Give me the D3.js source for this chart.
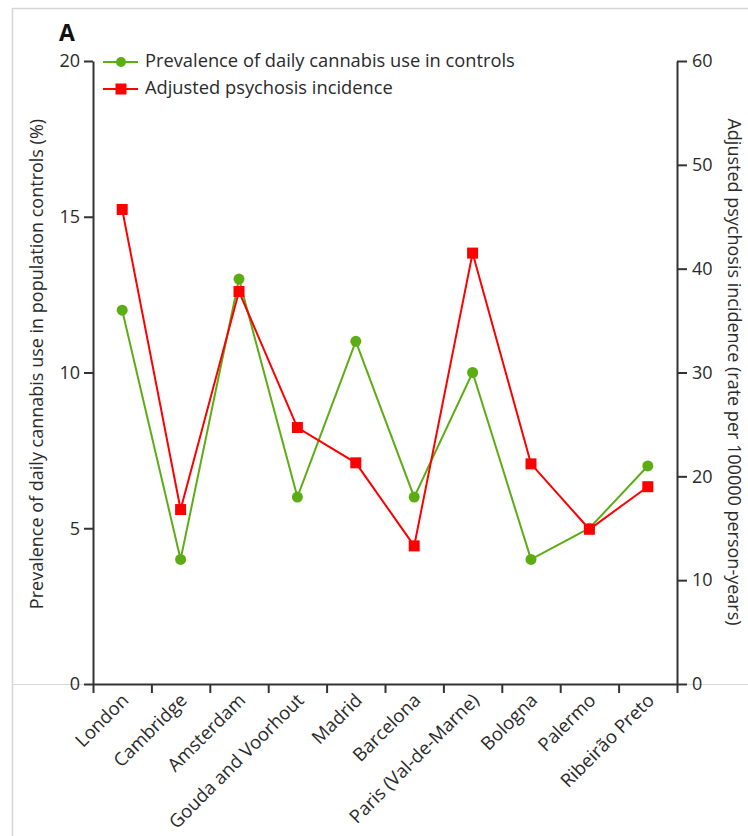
<!DOCTYPE html>
<html><head><meta charset="utf-8">
<script src="https://cdn.jsdelivr.net/npm/d3@7"></script>
<style>
html,body{margin:0;padding:0;background:#fff;}
text{font-family:"Open Sans", Lato, sans-serif;}
</style></head>
<body>
<svg id="chart" width="748" height="836"></svg>
<script>
const categories = ["London","Cambridge","Amsterdam","Gouda and Voorhout","Madrid","Barcelona","Paris (Val-de-Marne)","Bologna","Palermo","Ribeirão Preto"];
const prevalence = [12,4,13,6,11,6,10,4,5,7];
const incidence = [45.7,16.8,37.8,24.7,21.3,13.3,41.5,21.2,14.9,19.0];
const leftTicks = [0,5,10,15,20];
const rightTicks = [0,10,20,30,40,50,60];
const seriesNames = ["Prevalence of daily cannabis use in controls","Adjusted psychosis incidence"];
const leftTitle = "Prevalence of daily cannabis use in population controls (%)";
const rightTitle = "Adjusted psychosis incidence (rate per 100000 person-years)";

const W=748,H=836;
const L=93,R=677,T=61,B=684;
const svg=d3.select("#chart");
const green="#5cad14", red="#ff0000", axisCol="#333", txt="#2a2a2a";
const FONT='"Open Sans", sans-serif';

// frame
svg.append("line").attr("x1",12.5).attr("x2",12.5).attr("y1",8).attr("y2",H).attr("stroke","#d6d6d6").attr("stroke-width",1.5);
svg.append("line").attr("x1",12).attr("x2",W).attr("y1",8.5).attr("y2",8.5).attr("stroke","#d6d6d6").attr("stroke-width",1.5);
svg.append("line").attr("x1",12).attr("x2",W).attr("y1",B+0.5).attr("y2",B+0.5).attr("stroke","#d9d9d9").attr("stroke-width",1);

const x=d3.scaleBand().domain(categories).range([L,R]).padding(0);
const xb=d3.scaleLinear().domain([0,categories.length]).range([L,R]);
const yL=d3.scaleLinear().domain([0,20]).range([B,T]);
const yR=d3.scaleLinear().domain([0,60]).range([B,T]);
const cx=c=>x(c)+x.bandwidth()/2;

function styleAxis(g){
  g.selectAll(".domain").attr("stroke",axisCol).attr("stroke-width",2);
  g.selectAll(".tick line").attr("stroke",axisCol).attr("stroke-width",2);
  g.selectAll(".tick text").attr("fill",txt).style("font-size","18px").style("font-family",FONT);
}

const gl=svg.append("g").attr("transform",`translate(${L},0)`)
  .call(d3.axisLeft(yL).tickValues(leftTicks).tickSize(9).tickSizeOuter(0).tickPadding(4));
styleAxis(gl);
const gr=svg.append("g").attr("transform",`translate(${R},0)`)
  .call(d3.axisRight(yR).tickValues(rightTicks).tickSize(10).tickSizeOuter(0).tickPadding(5));
styleAxis(gr);
const gx=svg.append("g").attr("transform",`translate(0,${B})`)
  .call(d3.axisBottom(xb).ticks(categories.length).tickFormat("").tickSize(9).tickSizeOuter(0));
styleAxis(gx);

// x labels
svg.append("g").selectAll("text").data(categories).join("text")
  .attr("transform",c=>`translate(${cx(c)+4},${B+14}) rotate(-45)`)
  .attr("text-anchor","end").attr("dominant-baseline","middle")
  .attr("fill",txt).style("font-size","18.5px").text(c=>c);

// titles
svg.append("text").attr("transform",`translate(38,364) rotate(-90)`)
  .attr("text-anchor","middle").attr("dominant-baseline","middle")
  .attr("fill",txt).style("font-size","18px").text(leftTitle);
svg.append("text").attr("transform",`translate(733,372) rotate(90)`)
  .attr("text-anchor","middle").attr("dominant-baseline","middle")
  .attr("fill",txt).style("font-size","18px").text(rightTitle);

svg.append("text").attr("x",59).attr("y",41).attr("font-weight","bold").attr("fill","#111").style("font-size","23px").text("A");

// lines
const lineG=d3.line().x((d,i)=>cx(categories[i])).y(d=>yL(d));
const lineR=d3.line().x((d,i)=>cx(categories[i])).y(d=>yR(d));
svg.append("path").attr("d",lineG(prevalence)).attr("fill","none").attr("stroke",green).attr("stroke-width",2);
svg.append("path").attr("d",lineR(incidence)).attr("fill","none").attr("stroke",red).attr("stroke-width",2);
svg.append("g").selectAll("circle").data(prevalence).join("circle")
  .attr("cx",(d,i)=>cx(categories[i])).attr("cy",d=>yL(d)).attr("r",5.5).attr("fill",green);
const s=11;
svg.append("g").selectAll("rect").data(incidence).join("rect")
  .attr("x",(d,i)=>cx(categories[i])-s/2).attr("y",d=>yR(d)-s/2).attr("width",s).attr("height",s).attr("fill",red);

// legend
const leg=svg.append("g");
const legY=[62,89];
[green,red].forEach((col,i)=>{
  leg.append("line").attr("x1",103).attr("x2",138).attr("y1",legY[i]).attr("y2",legY[i]).attr("stroke",col).attr("stroke-width",2);
  if(i===0) leg.append("circle").attr("cx",121).attr("cy",legY[i]).attr("r",5).attr("fill",col);
  else leg.append("rect").attr("x",121-5.5).attr("y",legY[i]-5.5).attr("width",11).attr("height",11).attr("fill",col);
  leg.append("text").attr("x",145).attr("y",legY[i]).attr("dominant-baseline","middle")
    .attr("fill",txt).style("font-size","18.3px").text(seriesNames[i]);
});
</script>
</body></html>
